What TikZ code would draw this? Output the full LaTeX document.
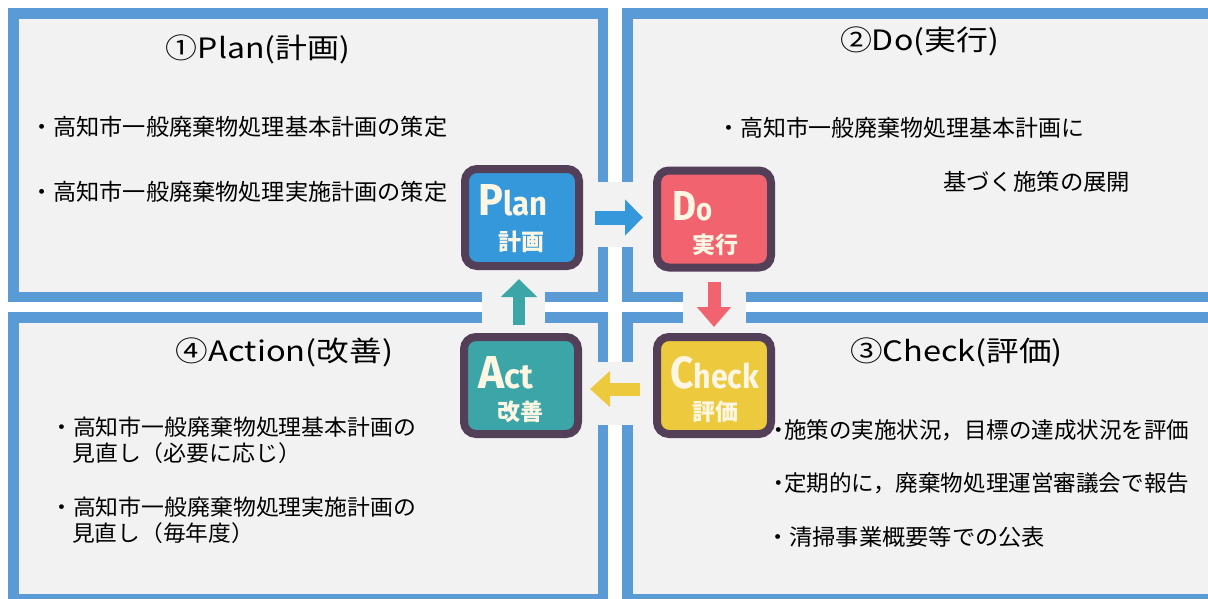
\documentclass[tikz,border=0pt]{standalone}
\usepackage{fontspec}
\usepackage{graphicx}
\setmainfont{Noto Sans CJK JP}
\newfontfamily\wordfont{Fira Sans}
\usetikzlibrary{arrows.meta}
\definecolor{panelblue}{HTML}{5B9BD5}
\definecolor{panelgray}{HTML}{F2F2F2}
\definecolor{framec}{HTML}{533F57}
\definecolor{planc}{HTML}{3498DB}
\definecolor{doc}{HTML}{F1646F}
\definecolor{checkc}{HTML}{EDC93E}
\definecolor{actc}{HTML}{3CA5A7}
\definecolor{cream}{HTML}{FDF6E3}
\newcommand{\pdcaword}[4]{\resizebox{#3pt}{#4pt}{{\fontsize{40}{40}\selectfont #1}{\fontsize{30}{30}\selectfont #2}}}
\newcommand{\fitw}[2]{\resizebox{#1pt}{\height}{#2}}
\begin{document}
\begin{tikzpicture}[x=1pt,y=-1pt,
  panel/.style={draw=panelblue, line width=10.5pt, fill=panelgray},
  patch/.style={fill=panelgray, draw=none},
  pdca/.style={draw=framec, line width=8pt, rounded corners=12pt, minimum width=114pt, minimum height=97pt, inner sep=0pt},
  word/.style={text=cream, inner sep=0pt, anchor=base west, font=\wordfont\bfseries},
  kanji/.style={text=cream, inner sep=0pt, font=\bfseries\fontsize{23}{23}\selectfont},
  title/.style={inner sep=0pt, anchor=base, font=\fontsize{28}{28}\selectfont},
  bodyA/.style={inner sep=0pt, anchor=base west, font=\fontsize{22.8}{22.8}\selectfont},
  bodyB/.style={inner sep=0pt, anchor=base west, font=\fontsize{22}{22}\selectfont},
  bodyC/.style={inner sep=0pt, anchor=base west, font=\fontsize{22.4}{22.4}\selectfont},
  flow/.style={line width=#1, line cap=butt}
]
\useasboundingbox (0,0) rectangle (1208,598);
\clip (0,0) rectangle (1208,598);
\fill[white] (0,0) rectangle (1208,598);
% panels
\draw[panel] (13.3,13.5) rectangle (603,297);
\draw[panel] (627.3,13.5) rectangle (1240,297);
\draw[panel] (13.3,317.3) rectangle (603,599.3);
\draw[panel] (627.3,317.3) rectangle (1240,599.3);
% patches behind the arrows
\fill[patch] (585,182) rectangle (640,247);
\fill[patch] (683,282) rectangle (746,330);
\fill[patch] (587,362) rectangle (640,425);
\fill[patch] (482,282) rectangle (545,330);
% titles
\node[title] (t1) at (258,58) {\fitw{184}{①Plan(計画)}};
\node[title] (t2) at (919.5,50.7) {\fitw{159}{②Do(実行)}};
\node[title] (t3) at (956.5,361.7) {\fitw{213}{③Check(評価)}};
\node[title] (t4) at (284.5,361.7) {\fitw{217}{④Action(改善)}};
% body texts
\node[bodyA] (a1) at (30,135.7) {\fitw{417}{・高知市一般廃棄物処理基本計画の策定}};
\node[bodyA] (a2) at (30,200.7) {\fitw{417}{・高知市一般廃棄物処理実施計画の策定}};
\node[bodyA] (b1) at (717,136.7) {\fitw{367}{・高知市一般廃棄物処理基本計画に}};
\node[bodyA] (b2) at (943,190.7) {\fitw{187}{基づく施策の展開}};
\node[bodyB] (d1) at (50,435.2) {\fitw{366}{・高知市一般廃棄物処理基本計画の}};
\node[bodyB] (d2) at (72,461.2) {\fitw{229}{見直し（必要に応じ）}};
\node[bodyB] (d3) at (50,515.2) {\fitw{366}{・高知市一般廃棄物処理実施計画の}};
\node[bodyB] (d4) at (72,541.2) {\fitw{182}{見直し（毎年度）}};
\node[bodyC] (c1) at (767,438.5) {\fitw{422}{・\kern-0.25em 施策の実施状況，目標の達成状況を評価}};
\node[bodyC] (c2) at (767,491.5) {\fitw{422}{・\kern-0.25em 定期的に，廃棄物処理運営審議会で報告}};
\node[bodyC] (c3) at (766,545.5) {\fitw{279}{・清掃事業概要等での公表}};
% PDCA boxes
\node[pdca, fill=planc] (plan) at (522,217.5) {};
\node[pdca, fill=doc] (do) at (714,219) {};
\node[pdca, fill=checkc] (check) at (714,385.5) {};
\node[pdca, fill=actc] (act) at (521,385.5) {};
\node[word] (planw) at (478,215) {\pdcaword{P}{lan}{69}{31}};
\node[kanji] (plank) at (521,242) {計画};
\node[word] (dow) at (672,220) {\pdcaword{D}{o}{40}{29}};
\node[kanji] (dok) at (715,245) {実行};
\node[word] (checkw) at (670,388) {\pdcaword{C}{heck}{89}{32}};
\node[kanji] (checkk) at (715,412) {評価};
\node[word] (actw) at (478,388) {\pdcaword{A}{ct}{55}{32}};
\node[kanji] (actk) at (520,412) {改善};
% arrows
\draw[flow=14pt, planc, -{Triangle[length=18pt,width=35pt]}]
  ([xshift=12pt]plan.east) -- ([xshift=-10pt]plan.east -| do.west);
\draw[flow=13pt, doc, -{Triangle[length=20pt,width=33pt]}]
  ([yshift=-10pt]do.south) -- ([yshift=6pt]do.south |- check.north);
\draw[flow=13pt, checkc, -{Triangle[length=20pt,width=35pt]}]
  ([xshift=-13pt,yshift=-3.5pt]check.west) -- ([xshift=8pt,yshift=-3.5pt]check.west -| act.east);
\draw[flow=12pt, actc, -{Triangle[length=18pt,width=35pt]}]
  ([xshift=-2pt,yshift=8pt]act.north) -- ([xshift=-2pt,yshift=-9pt]act.north |- plan.south);
\end{tikzpicture}
\end{document}
